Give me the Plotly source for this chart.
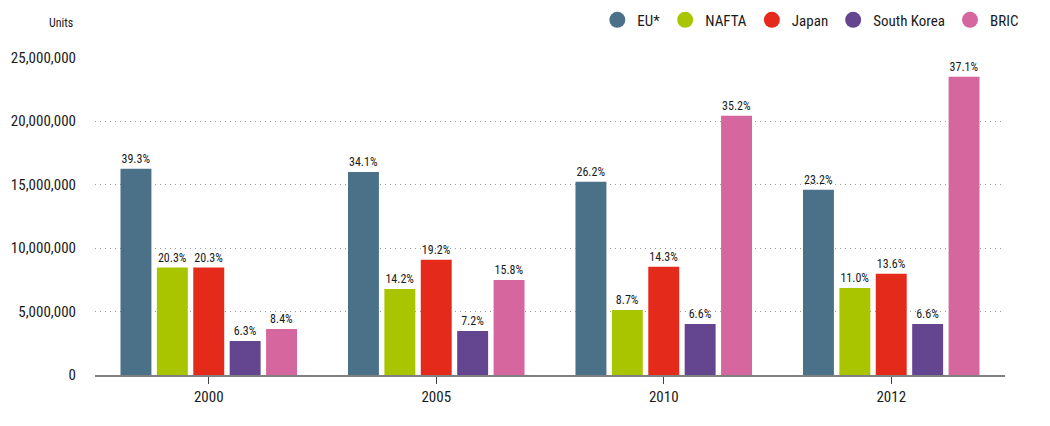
import plotly.graph_objects as go

years = ["2000", "2005", "2010", "2012"]
series_names = ["EU*", "NAFTA", "Japan", "South Korea", "BRIC"]
eu = [16250000, 16000000, 15220000, 14590000]
nafta = [8460000, 6780000, 5130000, 6860000]
japan = [8460000, 9070000, 8520000, 7970000]
south_korea = [2680000, 3470000, 4020000, 4020000]
bric = [3630000, 7490000, 20430000, 23500000]
eu_share = ["39.3%", "34.1%", "26.2%", "23.2%"]
nafta_share = ["20.3%", "14.2%", "8.7%", "11.0%"]
japan_share = ["20.3%", "19.2%", "14.3%", "13.6%"]
sk_share = ["6.3%", "7.2%", "6.6%", "6.6%"]
bric_share = ["8.4%", "15.8%", "35.2%", "37.1%"]
y_tickvals = [0, 5000000, 10000000, 15000000, 20000000, 25000000]
y_ticktext = ["0", "5,000,000", "10,000,000", "15,000,000", "20,000,000", "25,000,000"]

colors = ["#4B7189", "#A9C500", "#E42A1B", "#634590", "#D5669E"]
values = [eu, nafta, japan, south_korea, bric]
shares = [eu_share, nafta_share, japan_share, sk_share, bric_share]

FONT = "Roboto Condensed, Liberation Sans Narrow, sans-serif"
TXT = "#1a1a1a"

fig = go.Figure()
for name, vals, sh, col in zip(series_names, values, shares, colors):
    fig.add_trace(go.Bar(
        x=years, y=vals, name=name, marker=dict(color=col, line=dict(width=0)),
        text=sh, textposition="outside", cliponaxis=False,
        textfont=dict(family=FONT, size=12, color=TXT),
        showlegend=False, hoverinfo="skip",
    ))
for name, col in zip(series_names, colors):
    fig.add_trace(go.Scatter(
        x=[None], y=[None], mode="markers", name=name,
        marker=dict(symbol="circle", size=17, color=col),
        showlegend=True,
    ))

fig.update_layout(
    width=1050, height=426,
    margin=dict(l=95, r=45, t=57, b=51, autoexpand=False),
    paper_bgcolor="white", plot_bgcolor="white",
    barmode="group", bargap=0.2, bargroupgap=0.15,
    font=dict(family=FONT, color=TXT),
    legend=dict(orientation="h", x=0.552, xanchor="left", y=1.116, yanchor="middle",
                font=dict(family=FONT, size=15, color=TXT),
                itemsizing="trace", bgcolor="rgba(0,0,0,0)"),
    xaxis=dict(
        type="category", showgrid=False, showline=True, linecolor="#808080", linewidth=2,
        ticks="outside", ticklen=7, tickcolor="#444444", tickwidth=1,
        tickfont=dict(family=FONT, size=15, color=TXT), ticklabelstandoff=0,
        zeroline=False, automargin=False,
    ),
    yaxis=dict(
        range=[0, 25050000], tickvals=y_tickvals, ticktext=y_ticktext,
        showgrid=True, gridcolor="#9a9a9a", griddash="1px,4px", gridwidth=1,
        zeroline=False, showline=False, ticks="", automargin=False,
        tickfont=dict(family=FONT, size=15, color=TXT), ticklabelstandoff=18,
    ),
    annotations=[dict(text="Units", xref="paper", yref="paper", x=-0.022, y=1.108,
                      xanchor="right", yanchor="middle", showarrow=False,
                      font=dict(family=FONT, size=12, color=TXT))],
)

fig.write_html("out.html")
